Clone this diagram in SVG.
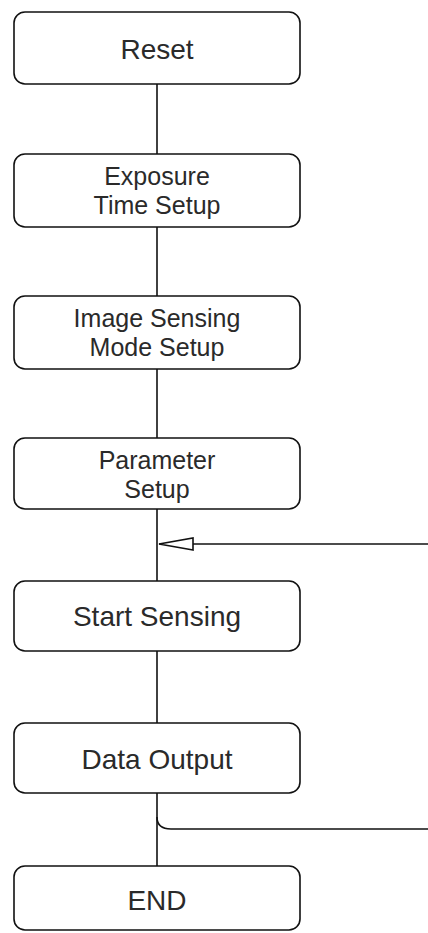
<svg xmlns="http://www.w3.org/2000/svg" width="428" height="933" viewBox="0 0 428 933">
<style>
.box{fill:#fff;stroke:#111;stroke-width:1.6}
.lbl{font-family:"Liberation Sans",Arial,sans-serif;font-size:28px;fill:#2a2a2a;text-anchor:middle}
.lbl2{font-family:"Liberation Sans",Arial,sans-serif;font-size:25px;fill:#2a2a2a;text-anchor:middle}
.ln{fill:none;stroke:#111;stroke-width:1.6}
</style>
<defs>
<marker id="openArrow" markerUnits="userSpaceOnUse" markerWidth="38" markerHeight="16" refX="35" refY="7" orient="auto">
<path d="M1,1 L35,7 L1,13 Z" fill="#fff" stroke="#111" stroke-width="1.6"/>
</marker>
</defs>
<g id="connectors">
<line class="ln" x1="157" y1="84" x2="157" y2="154"/>
<line class="ln" x1="157" y1="227" x2="157" y2="296"/>
<line class="ln" x1="157" y1="369" x2="157" y2="438"/>
<line class="ln" x1="157" y1="509" x2="157" y2="581"/>
<line class="ln" x1="157" y1="651" x2="157" y2="723"/>
<line class="ln" x1="157" y1="793" x2="157" y2="866"/>
<path class="ln" d="M428,544 L159,544" marker-end="url(#openArrow)"/>
<path class="ln" d="M157,817 Q157,829 171,829 L428,829"/>
</g>
<g id="reset">
<rect class="box" x="14" y="12" width="286" height="72" rx="11"/>
<text class="lbl" x="157" y="59">Reset</text>
</g>
<g id="exposure">
<rect class="box" x="14" y="154" width="286" height="73" rx="11"/>
<text class="lbl2" x="157" y="185">Exposure</text>
<text class="lbl2" x="157" y="214">Time Setup</text>
</g>
<g id="imagesensing">
<rect class="box" x="14" y="296" width="286" height="73" rx="11"/>
<text class="lbl2" x="157" y="327">Image Sensing</text>
<text class="lbl2" x="157" y="356">Mode Setup</text>
</g>
<g id="parameter">
<rect class="box" x="14" y="438" width="286" height="71" rx="11"/>
<text class="lbl2" x="157" y="469">Parameter</text>
<text class="lbl2" x="157" y="498">Setup</text>
</g>
<g id="startsensing">
<rect class="box" x="14" y="581" width="286" height="70" rx="11"/>
<text class="lbl" x="157" y="626">Start Sensing</text>
</g>
<g id="dataoutput">
<rect class="box" x="14" y="723" width="286" height="70" rx="11"/>
<text class="lbl" x="157" y="769">Data Output</text>
</g>
<g id="end">
<rect class="box" x="14" y="866" width="286" height="64" rx="11"/>
<text class="lbl" x="157" y="910">END</text>
</g>
</svg>
